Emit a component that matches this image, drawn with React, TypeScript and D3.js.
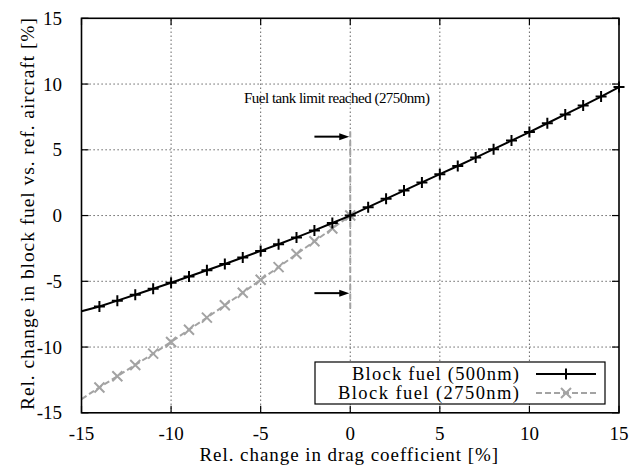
import React from "react";
import * as d3 from "d3";

// Relative change in drag coefficient [%]
const dragChange = [-15, -14, -13, -12, -11, -10, -9, -8, -7, -6, -5, -4, -3, -2, -1, 0, 1, 2, 3, 4, 5, 6, 7, 8, 9, 10, 11, 12, 13, 14, 15];
// Block fuel change, 500 nm mission [%]
const fuel500 = [-7.28, -6.92, -6.47, -6.02, -5.57, -5.11, -4.64, -4.16, -3.68, -3.19, -2.69, -2.18, -1.66, -1.13, -0.57, 0, 0.64, 1.27, 1.9, 2.52, 3.15, 3.77, 4.41, 5.05, 5.7, 6.35, 7.02, 7.69, 8.36, 9.05, 9.77];
// Block fuel change, 2750 nm mission (tank limit reached above 0 %)
const dragChange2750 = [-15, -14, -13, -12, -11, -10, -9, -8, -7, -6, -5, -4, -3, -2, -1, 0];
const fuel2750 = [-13.96, -13.07, -12.22, -11.36, -10.5, -9.61, -8.68, -7.76, -6.82, -5.87, -4.88, -3.92, -2.93, -1.96, -0.98, 0];

const xTicks = [-15, -10, -5, 0, 5, 10, 15];
const yTicks = [-15, -10, -5, 0, 5, 10, 15];

const tankLimitX = 0;
const tankLimitSpan = [6.4, -7.2];
const arrowLevels = [6.0, -5.9];

const W = 634;
const H = 469;
const FONT = "'Liberation Serif', 'Times New Roman', serif";

export default function App() {
  const x = d3.scaleLinear().domain([-15, 15]).range([81.5, 619]);
  const y = d3.scaleLinear().domain([-15, 15]).range([412.8, 18.3]);
  const [x0, x1] = x.range();
  const [y0, y1] = y.range();

  const line = d3
    .line<[number, number]>()
    .x((d) => x(d[0]))
    .y((d) => y(d[1]));

  const pts500: [number, number][] = dragChange.map((d, i) => [d, fuel500[i]]);
  const pts2750: [number, number][] = dragChange2750.map((d, i) => [d, fuel2750[i]]);

  const gray = "#a3a3a3";
  const tickLen = 7;
  const plus = (cx: number, cy: number, s = 5.5) =>
    `M${cx - s},${cy}H${cx + s}M${cx},${cy - s}V${cy + s}`;
  const cross = (cx: number, cy: number, s = 5) =>
    `M${cx - s},${cy - s}L${cx + s},${cy + s}M${cx - s},${cy + s}L${cx + s},${cy - s}`;

  const legendX0 = 315;
  const legendX1 = 605;
  const legendY0 = 362;
  const legendY1 = 404;
  const sampleX0 = 536;
  const sampleX1 = 596;

  return (
    <svg
      width={W}
      height={H}
      style={{ position: "absolute", left: 0, top: 0, background: "#fff", fontFamily: FONT }}
    >
      <rect width={W} height={H} fill="#fff" />
      {/* grid */}
      <g stroke="#000" strokeWidth={1} strokeDasharray="1.2,2.8" opacity={0.75}>
        {xTicks.slice(1, -1).map((t) => (
          <line key={"gx" + t} x1={x(t)} x2={x(t)} y1={y0} y2={y1} />
        ))}
        {yTicks.slice(1, -1).map((t) => (
          <line key={"gy" + t} x1={x0} x2={x1} y1={y(t)} y2={y(t)} />
        ))}
      </g>

      {/* tank limit marker */}
      <line
        x1={x(tankLimitX)}
        x2={x(tankLimitX)}
        y1={y(tankLimitSpan[0])}
        y2={y(tankLimitSpan[1])}
        stroke={gray}
        strokeWidth={2}
        strokeDasharray="6,3"
      />
      {arrowLevels.map((v) => (
        <g key={"ar" + v}>
          <line x1={x(-2)} x2={x(tankLimitX) - 8} y1={y(v)} y2={y(v)} stroke="#000" strokeWidth={2} />
          <path
            d={`M${x(tankLimitX) - 1},${y(v)} L${x(tankLimitX) - 11},${y(v) - 3.5} L${x(tankLimitX) - 11},${y(v) + 3.5} Z`}
            fill="#000"
          />
        </g>
      ))}
      <text x={244} y={103} fontSize={15} fill="#000" textLength={186} lengthAdjust="spacing">
        Fuel tank limit reached (2750nm)
      </text>

      {/* 2750 nm series */}
      <path d={line(pts2750) ?? ""} fill="none" stroke={gray} strokeWidth={2} strokeDasharray="6,3" />
      <g stroke={gray} strokeWidth={2}>
        {pts2750.slice(1).map((d) => (
          <path key={"c" + d[0]} d={cross(x(d[0]), y(d[1]))} />
        ))}
      </g>

      {/* 500 nm series */}
      <path d={line(pts500) ?? ""} fill="none" stroke="#000" strokeWidth={2} />
      <g stroke="#000" strokeWidth={2}>
        {pts500.slice(1).map((d) => (
          <path key={"p" + d[0]} d={plus(x(d[0]), y(d[1]))} />
        ))}
      </g>

      {/* legend */}
      <rect x={legendX0} y={legendY0} width={legendX1 - legendX0} height={legendY1 - legendY0} fill="#fff" stroke="#000" strokeWidth={1.2} />
      <text x={352} y={380} fontSize={18.5} textLength={167} lengthAdjust="spacing">
        Block fuel (500nm)
      </text>
      <text x={338} y={399} fontSize={18.5} textLength={181} lengthAdjust="spacing">
        Block fuel (2750nm)
      </text>
      <line x1={sampleX0} x2={sampleX1} y1={374} y2={374} stroke="#000" strokeWidth={2} />
      <path d={plus((sampleX0 + sampleX1) / 2, 374)} stroke="#000" strokeWidth={2} />
      <line x1={sampleX0} x2={sampleX1} y1={393} y2={393} stroke={gray} strokeWidth={2} strokeDasharray="6,3" />
      <path d={cross((sampleX0 + sampleX1) / 2, 393)} stroke={gray} strokeWidth={2} />

      {/* ticks on all four sides */}
      <g stroke="#000" strokeWidth={1.2}>
        {xTicks.map((t) => (
          <g key={"tx" + t}>
            <line x1={x(t)} x2={x(t)} y1={y0} y2={y0 - tickLen} />
            <line x1={x(t)} x2={x(t)} y1={y1} y2={y1 + tickLen} />
          </g>
        ))}
        {yTicks.map((t) => (
          <g key={"ty" + t}>
            <line x1={x0} x2={x0 + tickLen} y1={y(t)} y2={y(t)} />
            <line x1={x1} x2={x1 - tickLen} y1={y(t)} y2={y(t)} />
          </g>
        ))}
      </g>
      <rect x={x0} y={y1} width={x1 - x0} height={y0 - y1} fill="none" stroke="#000" strokeWidth={1.6} />

      {/* tick labels */}
      <g fontSize={19} fill="#000">
        {xTicks.map((t) => (
          <text key={"lx" + t} x={x(t)} y={440} textAnchor="middle">
            {t}
          </text>
        ))}
        {yTicks.map((t) => (
          <text key={"ly" + t} x={62} y={y(t) + 6.5} textAnchor="end">
            {t}
          </text>
        ))}
      </g>

      {/* axis titles */}
      <text x={199.5} y={461} fontSize={19} textLength={298.5} lengthAdjust="spacing">
        Rel. change in drag coefficient [%]
      </text>
      <text
        transform={`translate(34,410) rotate(-90)`}
        fontSize={19.5}
        textLength={392}
        lengthAdjust="spacing"
      >
        Rel. change in block fuel vs. ref. aircraft [%]
      </text>
    </svg>
  );
}
